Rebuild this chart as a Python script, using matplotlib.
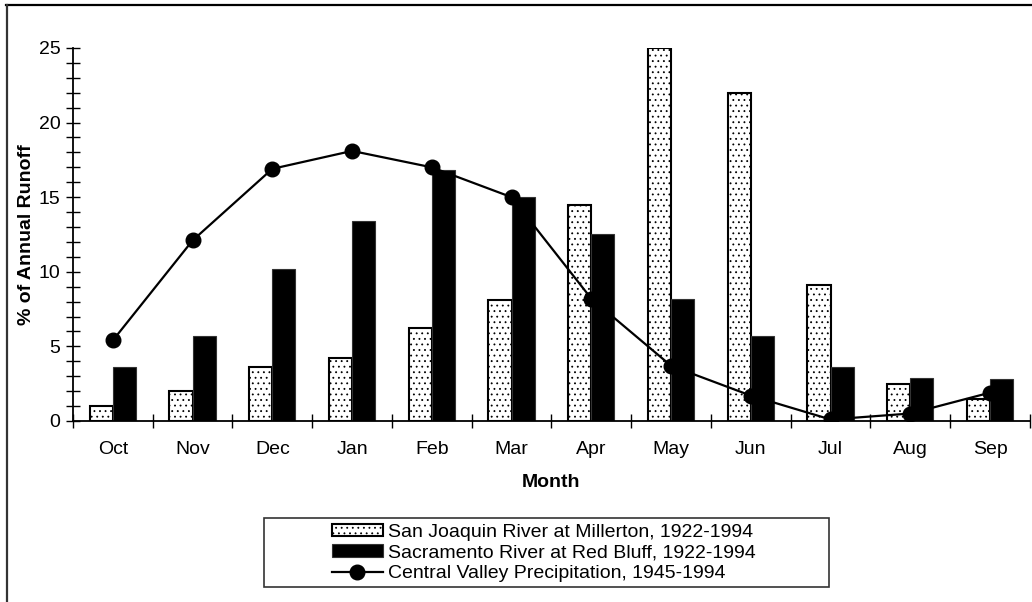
import matplotlib

matplotlib.use("Agg")
import matplotlib.pyplot as plt
import numpy as np
from matplotlib.lines import Line2D
from matplotlib.patches import Rectangle

months = ["Oct", "Nov", "Dec", "Jan", "Feb", "Mar", "Apr", "May", "Jun", "Jul", "Aug", "Sep"]
san_joaquin = [1.0, 2.0, 3.6, 4.2, 6.2, 8.1, 14.5, 25.0, 22.0, 9.1, 2.5, 1.5]
sacramento = [3.6, 5.7, 10.2, 13.4, 16.8, 15.0, 12.5, 8.2, 5.7, 3.6, 2.9, 2.8]
precip = [5.4, 12.1, 16.9, 18.1, 17.0, 15.0, 8.2, 3.7, 1.7, 0.1, 0.5, 1.9]

labels = [
    "San Joaquin River at Millerton, 1922-1994",
    "Sacramento River at Red Bluff, 1922-1994",
    "Central Valley Precipitation, 1945-1994",
]

plt.rcParams.update(
    {
        "font.family": ["Liberation Sans", "DejaVu Sans"],
        "font.size": 14,
        "hatch.linewidth": 0.6,
    }
)

fig = plt.figure(figsize=(10.32, 6.02), dpi=100)
ax = fig.add_axes([0.0707, 0.3007, 0.9273, 0.6196])

x = np.arange(len(months))
w = 0.29
b1 = ax.bar(x - w / 2, san_joaquin, width=w, facecolor="white", edgecolor="black",
            hatch="...", linewidth=1.5, zorder=2, label=labels[0])
b2 = ax.bar(x + w / 2, sacramento, width=w, facecolor="black", edgecolor="#333333",
            linewidth=0.8, zorder=2, label=labels[1])
ln, = ax.plot(x, precip, color="black", lw=1.6, marker="o", markersize=10.5, zorder=4,
              label=labels[2])

ax.set_xlim(-0.5, 11.5)
ax.set_ylim(0, 25)
ax.set_xticks(np.arange(-0.5, 12, 1.0))
ax.set_xticklabels([])
ax.set_xticks(x, minor=True)
ax.set_xticklabels(months, minor=True)
ax.tick_params(axis="x", which="major", direction="inout", length=10, width=1)
ax.tick_params(axis="x", which="minor", length=0, pad=14.5, labelsize=14)
ax.set_yticks(np.arange(0, 26, 5))
ax.set_yticks(np.arange(0, 26, 1), minor=True)
ax.tick_params(axis="y", which="both", direction="inout", length=10, width=1, labelsize=14)
ax.tick_params(axis="y", which="major", pad=4)

for side in ("top", "right"):
    ax.spines[side].set_visible(False)
for side in ("left", "bottom"):
    ax.spines[side].set_linewidth(1.3)

ax.set_xlabel("Month", fontweight="bold", fontsize=14, labelpad=11.5)
ax.set_ylabel("% of Annual Runoff", fontweight="bold", fontsize=14, labelpad=3)

leg = fig.legend(handles=[b1, b2, ln], loc="center", bbox_to_anchor=(0.527, 0.0815),
                 frameon=False, handlelength=2.6, handleheight=0.6, handletextpad=0.26,
                 labelspacing=0.2, fontsize=14, borderaxespad=0)

fig.patches.append(Rectangle((264 / 1032, 1 - 587 / 602), 565 / 1032, 69 / 602,
                             transform=fig.transFigure, facecolor="none",
                             edgecolor="#333333", linewidth=1.2))
fig.lines.append(Line2D([6 / 1032, 1.0], [1 - 5 / 602, 1 - 5 / 602], transform=fig.transFigure,
                        color="black", linewidth=1.6))
fig.lines.append(Line2D([6.5 / 1032, 6.5 / 1032], [0, 1 - 5 / 602], transform=fig.transFigure,
                        color="#333333", linewidth=1.6))

fig.savefig("out.png", dpi=100)
